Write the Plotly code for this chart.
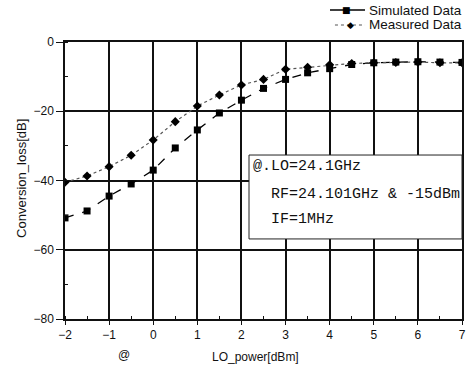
import plotly.graph_objects as go

lo_power = [-2, -1.5, -1, -0.5, 0, 0.5, 1, 1.5, 2, 2.5, 3, 3.5, 4, 4.5, 5, 5.5, 6, 6.5, 7]
simulated = [-50.8, -48.8, -44.5, -41.0, -37.0, -30.6, -25.4, -20.5, -16.8, -13.4, -10.8,
             -8.9, -7.7, -6.5, -6.0, -5.8, -5.7, -5.8, -5.9]
measured = [-40.5, -38.7, -36.0, -32.7, -28.3, -23.0, -18.5, -15.3, -12.4, -10.8, -7.9,
            -7.3, -6.6, -6.2, -6.0, -5.9, -5.8, -6.0, -6.0]
x_ticks = [-2, -1, 0, 1, 2, 3, 4, 5, 6, 7]
y_ticks = [0, -20, -40, -60, -80]
series_names = ["Simulated Data", "Measured Data"]
box_text = ["@.LO=24.1GHz", "RF=24.101GHz &amp; -15dBm", "IF=1MHz"]

FONT = "Liberation Sans"
MONO = "Liberation Mono"
INK = "#111111"

fig = go.Figure()
fig.add_trace(go.Scatter(
    x=lo_power, y=simulated, name=series_names[0], mode="lines+markers", showlegend=False,
    line=dict(color="black", width=1.3, dash="dash"),
    marker=dict(symbol="square", size=7, color="black"),
))
fig.add_trace(go.Scatter(
    x=lo_power, y=measured, name=series_names[1], mode="lines+markers", showlegend=False,
    line=dict(color="#555555", width=1.2, dash="dot"),
    marker=dict(symbol="diamond", size=7, color="black"),
))

axis_common = dict(
    showline=True, linecolor=INK, linewidth=1.5, mirror=True,
    showgrid=True, gridcolor=INK, gridwidth=1.5, zeroline=False,
    ticks="outside", tickcolor=INK,
    tickfont=dict(family=FONT, size=12, color=INK),
    automargin=False,
)
fig.update_xaxes(range=[-2, 7], tickvals=x_ticks, ticklen=4,
                 minor=dict(dtick=0.5, ticks="inside", ticklen=3, tickcolor=INK, showgrid=False),
                 **axis_common)
fig.update_yaxes(range=[-80, 0], tickvals=y_ticks, ticklen=7,
                 minor=dict(dtick=10, ticks="inside", ticklen=3, tickcolor=INK, showgrid=False),
                 **axis_common)

# Info box
fig.add_shape(type="rect", xref="paper", yref="paper", x0=0.4635, x1=1.0, y0=0.289, y1=0.592,
              fillcolor="white", line=dict(color="#222222", width=1), layer="above")
for txt, xp, yp in zip(box_text, [0.469, 0.514, 0.514], [0.552, 0.448, 0.361]):
    fig.add_annotation(text=txt, xref="paper", yref="paper", x=xp, y=yp, xanchor="left",
                       yanchor="middle", showarrow=False,
                       font=dict(family=MONO, size=15, color=INK))

# Manual legend (above the plot, top right)
legend_rows = [
    dict(y=1.1155, x0=0.6675, x1=0.7557, xm=0.710, sym="\u25A0", dash="solid",
         color="black", width=1.4, msize=9),
    dict(y=1.0614, x0=0.680, x1=0.7557, xm=0.718, sym="\u25C6", dash="dot",
         color="#555555", width=1.2, msize=9),
]
for name, row in zip(series_names, legend_rows):
    fig.add_shape(type="line", xref="paper", yref="paper", x0=row["x0"], x1=row["x1"],
                  y0=row["y"], y1=row["y"],
                  line=dict(color=row["color"], width=row["width"], dash=row["dash"]))
    fig.add_annotation(text=row["sym"], xref="paper", yref="paper", x=row["xm"], y=row["y"],
                       xanchor="center", yanchor="middle", showarrow=False,
                       font=dict(family="DejaVu Sans", size=row["msize"], color="black"),
                       bgcolor="rgba(0,0,0,0)", borderpad=0)
    fig.add_annotation(text=name, xref="paper", yref="paper", x=0.761, y=row["y"],
                       xanchor="left", yanchor="middle", showarrow=False,
                       font=dict(family=FONT, size=13.5, color=INK))

# Axis titles and stray mark
fig.add_annotation(text="LO_power[dBm]", xref="paper", yref="paper", x=0.4786, y=-0.137,
                   xanchor="center", yanchor="middle", showarrow=False,
                   font=dict(family=FONT, size=12, color=INK))
fig.add_annotation(text="@", xref="paper", yref="paper", x=0.1486, y=-0.13,
                   xanchor="center", yanchor="middle", showarrow=False,
                   font=dict(family=FONT, size=12, color=INK))
fig.add_annotation(text="Conversion_loss[dB]", xref="paper", yref="paper", x=-0.111, y=0.509,
                   xanchor="center", yanchor="middle", textangle=-90, showarrow=False,
                   font=dict(family=FONT, size=13, color=INK))

fig.update_layout(
    width=466, height=373,
    margin=dict(l=65, r=4, t=42, b=54, autoexpand=False),
    paper_bgcolor="white", plot_bgcolor="white",
    font=dict(family=FONT, size=12, color=INK),
    showlegend=False,
)

fig.write_html("out.html", config={"displayModeBar": False},
               post_script="document.body.style.margin='0';")
